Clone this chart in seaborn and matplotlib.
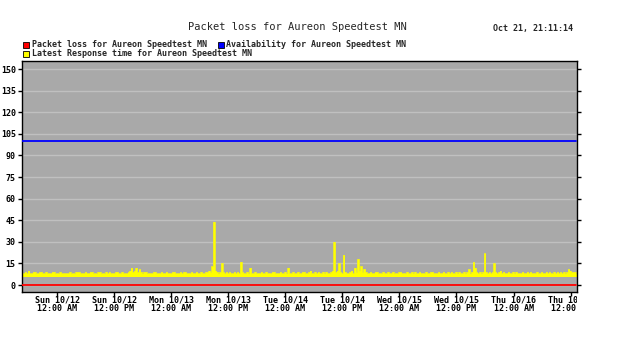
import numpy as np
import pandas as pd
import matplotlib
matplotlib.use("Agg")
import matplotlib.pyplot as plt
import matplotlib.dates as mdates
import matplotlib.patches as mpatches
import matplotlib.transforms as mtransforms
import seaborn as sns

title = "Packet loss for Aureon Speedtest MN"
timestamp_text = "Oct 21, 21:11:14"
legend_labels = ["Packet loss for Aureon Speedtest MN",
                 "Availability for Aureon Speedtest MN",
                 "Latest Response time for Aureon Speedtest MN"]
y_ticks = [0, 15, 30, 45, 60, 75, 90, 105, 120, 135, 150]

start_time = "2025-10-11 16:35"
interval = "20min"
response_time = [
    8,8,9,8,10,8,8,9,9,8,8,9,9,8,8,9,8,8,8,9,9,8,8,8,9,8,8,
    8,8,8,9,8,8,8,9,9,9,8,8,8,9,8,8,9,9,8,8,8,9,9,8,8,8,9,
    8,9,8,8,8,9,9,8,8,9,8,8,8,9,10,12,9,10,12,9,11,9,8,9,9,8,8,
    8,8,9,9,8,8,8,9,8,8,9,8,8,8,9,9,8,8,8,9,8,9,9,8,8,8,9,
    8,8,9,8,8,9,8,8,9,9,10,9,13,44,10,9,8,9,15,9,8,9,8,9,8,8,9,
    8,9,8,16,9,8,8,9,8,12,8,8,9,8,8,8,9,8,8,9,8,8,8,9,9,8,8,
    8,9,8,8,9,8,12,8,8,9,8,8,9,8,8,9,9,8,8,9,10,8,8,9,8,9,8,
    8,9,8,9,8,8,9,10,30,9,10,15,9,8,21,9,8,8,9,10,8,12,9,18,10,13,9,
    11,9,8,8,9,8,8,9,9,8,8,8,9,8,8,9,8,8,9,8,8,8,9,9,8,8,8,
    9,8,8,9,8,9,8,8,9,8,8,8,9,8,8,9,9,8,8,8,9,8,8,9,8,8,9,
    8,9,8,8,9,8,9,8,8,9,8,9,11,8,9,16,12,9,8,9,8,9,22,9,8,9,8,
    9,15,9,8,9,10,8,9,8,8,9,8,8,9,8,9,8,8,8,9,8,8,9,8,9,8,8,
    8,9,8,8,9,8,8,9,8,9,8,8,9,8,9,8,9,8,9,8,9,11,10,9,9,9,8,
]
packet_loss_value = 0
availability_value = 100
band_bottom = 5.9

times = pd.date_range(start_time, periods=len(response_time), freq=interval)
df = pd.DataFrame({
    "time": times,
    "response": response_time,
    "loss": [packet_loss_value] * len(times),
    "avail": [availability_value] * len(times),
})

sns.set_style("white")
plt.rcParams["font.family"] = ["DejaVu Sans Mono", "DejaVu Sans"]

fig = plt.figure(figsize=(6.26, 3.53), dpi=100)
fig.patch.set_facecolor("white")
ax = fig.add_axes([22/626, 1-292/353, 555/626, 231/353])
ax.set_facecolor("#a9a9a9")

ax.set_ylim(-4.86, 155.56)
ax.set_xlim(pd.Timestamp("2025-10-11 16:32"), pd.Timestamp("2025-10-16 13:22"))
ax.set_yticks(y_ticks)
for yv in y_ticks:
    ax.axhline(yv, color="#c0c0c0", lw=1.0, zorder=0.5)

ax.fill_between(df["time"], band_bottom, df["response"], step="mid",
                color="#ffff00", lw=0, zorder=2)
sns.lineplot(data=df, x="time", y="response", ax=ax, color="#ffff00",
             lw=0.5, drawstyle="steps-mid", zorder=2)
sns.lineplot(data=df, x="time", y="loss", ax=ax, color="#ff0000", lw=1.3, zorder=3)
sns.lineplot(data=df, x="time", y="avail", ax=ax, color="#0000ff", lw=1.3, zorder=3)

ax.set_xlabel("")
ax.set_ylabel("")
ax.xaxis.set_major_locator(mdates.HourLocator(byhour=[0, 12]))
ax.xaxis.set_major_formatter(mdates.DateFormatter("%a %m/%d\n%I:%M %p"))

for s in ax.spines.values():
    s.set_color("black")
    s.set_linewidth(1.0)
    s.set_visible(True)

ax.tick_params(axis="y", which="both", left=True, right=True, direction="out",
               length=3, width=1, colors="black", labelsize=6, pad=1.5)
ax.tick_params(axis="x", bottom=True, direction="out", length=3, width=1,
               colors="black", labelsize=6, pad=-0.5)
for lab in ax.get_yticklabels():
    lab.set_fontweight("bold")

clip = mtransforms.TransformedBbox(mtransforms.Bbox([[-1, -1], [1, 2]]), ax.transAxes)
for lab in ax.get_xticklabels():
    lab.set_fontweight("bold")
    lab.set_linespacing(1.0)
    lab.set_clip_box(clip)
    lab.set_clip_on(True)

fig.text(297.5/626, 1-27/353, title, ha="center", va="center", fontsize=7.5)
fig.text(533/626, 1-29/353, timestamp_text, ha="center", va="center", fontsize=6,
         fontweight="bold")

sq = 6
legend_items = [
    (23, 44.5, "#ff0000", 31.5, legend_labels[0]),
    (218, 44.5, "#0000ff", 226, legend_labels[1]),
    (23, 53.5, "#ffff00", 31.5, legend_labels[2]),
]
for x0, yc, col, tx, txt in legend_items:
    fig.add_artist(mpatches.Rectangle((x0/626, 1-(yc+sq/2)/353), sq/626, sq/353,
                                      transform=fig.transFigure, facecolor=col,
                                      edgecolor="black", lw=0.6))
    fig.text(tx/626, 1-yc/353, txt, ha="left", va="center", fontsize=6,
             fontweight="bold")

fig.savefig("out.png", dpi=100)
